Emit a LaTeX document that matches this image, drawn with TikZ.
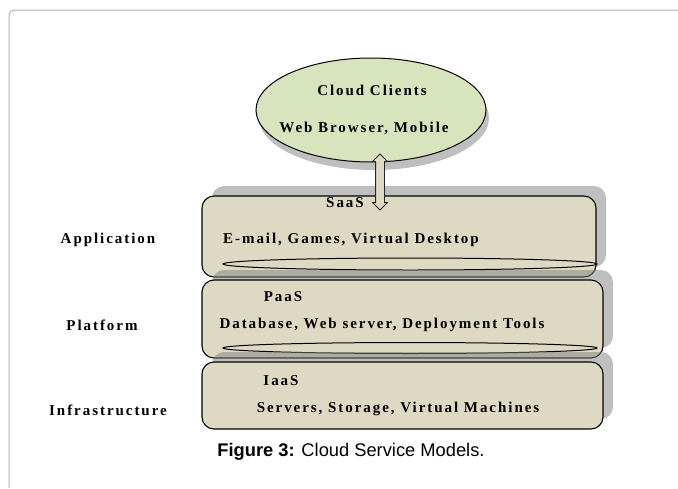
\documentclass[tikz,border=0pt]{standalone}
\usepackage{fontspec}
\setmainfont{Liberation Serif}
\newfontfamily\capfont{Liberation Sans}
\newfontfamily\layerfont[LetterSpace=13]{Liberation Serif}
\usetikzlibrary{positioning,shapes.geometric,shapes.arrows,shadows}
\definecolor{tanfill}{HTML}{DDD9C3}
\definecolor{leaffill}{HTML}{D7E4BD}
\definecolor{framegray}{HTML}{B4B4B4}
\newcommand{\layer}[1]{{\layerfont\bfseries\fontsize{15}{17}\selectfont #1}}

\begin{document}
\begin{tikzpicture}[x=1pt,y=-1pt,
  every node/.style={inner sep=0pt},
  layerbox/.style={draw,line width=1.1pt,fill=tanfill,rounded corners=12pt,
    drop shadow={shadow xshift=10pt,shadow yshift=10pt}},
  rim/.style={ellipse,draw,line width=1pt,fill=tanfill,
    minimum width=374pt},
  client/.style={ellipse,draw,line width=1pt,fill=leaffill,
    minimum width=230pt,minimum height=104pt,
    drop shadow={shadow xshift=3pt,shadow yshift=-8pt}}]

  \useasboundingbox (0,0) rectangle (678,488);
  \draw [framegray,line width=1pt,rounded corners=5pt]
  (9,488) -- (9,10) -- (678,10);

  \node (clients) [client] at (371,110) {};
  \node at (372,90) {\layer{Cloud Clients}};
  \node at (364,128) {\layer{Web Browser, Mobile}};

  \node (app) [layerbox,minimum width=394pt,minimum height=81pt]
        at (399,236.5) {};
  \node (appRim) [rim,minimum height=12pt] at (410,264) {};

  \node (plat) [layerbox,minimum width=401pt,minimum height=78pt]
        at (402.5,319) {};
  \node (platRim) [rim,minimum height=11pt] at (410,348) {};

  \node (infra) [layerbox,minimum width=401pt,minimum height=67pt]
        at (402.5,395.5) {};

  \node (link) [double arrow,draw=black!85,line width=0.9pt,fill=tanfill,
                rotate=90,minimum height=56pt,inner xsep=0pt,
                inner ysep=4pt,double arrow head extend=3pt]
        at (380,182) {};

  \node (saas) at (345,203) {\layer{SaaS}};
  \node [anchor=west] at (223,240) {\layer{E-mail, Games, Virtual Desktop}};
  \node (paas) at (283,297) {\layer{PaaS}};
  \node at (382,325) {\layer{Database, Web server, Deployment Tools}};
  \node (iaas) at (281,381) {\layer{IaaS}};
  \node at (398,409) {\layer{Servers, Storage, Virtual Machines}};

  \node at (108,240) {\layer{Application}};
  \node at (102,325) {\layer{Platform}};
  \node at (108,410) {\layer{Infrastructure}};

  \node at (351,452) {\capfont\fontsize{18.3}{21}\selectfont
    \textbf{Figure 3:} Cloud Service Models.};

\end{tikzpicture}
\end{document}
